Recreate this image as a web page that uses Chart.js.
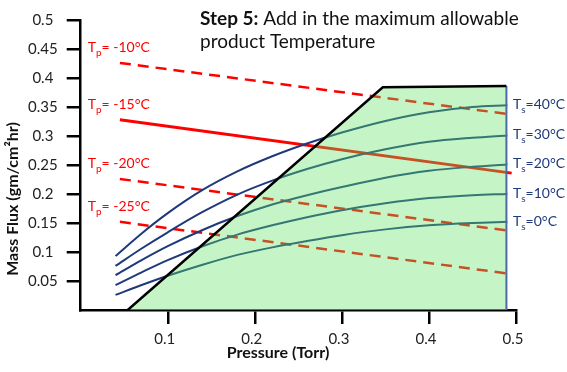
<!DOCTYPE html>
<html>
<head>
<meta charset="utf-8">
<script src="https://cdn.jsdelivr.net/npm/chart.js@4.4.1/dist/chart.umd.min.js"></script>
<style>
  html, body { margin: 0; padding: 0; background: #fff; }
  #wrap { width: 567px; height: 372px; }
</style>
</head>
<body>
<div id="wrap"><canvas id="fluxChart"></canvas></div>
<script>
// pressure (Torr) where the shelf temperature curves were read
const pressure = [0.04, 0.07, 0.10, 0.14, 0.18, 0.22, 0.26, 0.30, 0.35, 0.40, 0.45, 0.49];

// mass flux (gm/cm2hr) for each shelf temperature
const ts0  = [0.026, 0.043, 0.059, 0.078, 0.095, 0.108, 0.119, 0.129, 0.139, 0.146, 0.150, 0.152];
const ts10 = [0.043, 0.065, 0.086, 0.110, 0.130, 0.146, 0.160, 0.172, 0.184, 0.193, 0.198, 0.200];
const ts20 = [0.060, 0.086, 0.110, 0.138, 0.162, 0.182, 0.198, 0.212, 0.228, 0.240, 0.247, 0.251];
const ts30 = [0.076, 0.106, 0.134, 0.169, 0.199, 0.223, 0.243, 0.260, 0.277, 0.290, 0.297, 0.301];
const ts40 = [0.093, 0.132, 0.167, 0.207, 0.239, 0.265, 0.287, 0.306, 0.326, 0.341, 0.350, 0.353];
const tsLabels = ["0", "10", "20", "30", "40"];

// product temperature lines (straight), start and end
const tpPressure = [0.045, 0.495];
const tpLabels = ["-10", "-15", "-20", "-25"];
const tpStart = [0.426, 0.328, 0.226, 0.152];
const tpEnd   = [0.337, 0.236, 0.136, 0.062];

// design space (green area) corners
const spaceX = [0.054, 0.347, 0.489];
const spaceY = [0, 0.384, 0.386];

const xTicks = [0.1, 0.2, 0.3, 0.4, 0.5];

const NAVY = "#1f3a7a";
const RED = "#ff0000";
const FONT = "Lato";

function pts(xs, ys) {
  return xs.map((x, i) => ({ x: x, y: ys[i] }));
}

const tsSeries = [ts0, ts10, ts20, ts30, ts40];

const datasets = [];

// black boundary on top
datasets.push({
  data: pts(spaceX, spaceY),
  borderColor: "#000",
  borderWidth: 2.5,
  pointRadius: 0,
  order: 0
});

// blue bottom + right edge
datasets.push({
  data: [
    { x: spaceX[0], y: 0 },
    { x: spaceX[2], y: 0 },
    { x: spaceX[2], y: spaceY[2] }
  ],
  borderColor: "#4a6aa8",
  borderWidth: 2,
  pointRadius: 0,
  order: 0
});

// green translucent area over the curves
datasets.push({
  data: pts(spaceX, spaceY).concat([{ x: spaceX[2], y: 0 }]),
  borderWidth: 0,
  borderColor: "rgba(0,0,0,0)",
  backgroundColor: "rgba(93,226,99,0.36)",
  fill: "origin",
  pointRadius: 0,
  order: 1
});

tsSeries.forEach((s) => {
  datasets.push({
    data: pts(pressure, s),
    borderColor: NAVY,
    borderWidth: 2,
    pointRadius: 0,
    cubicInterpolationMode: "monotone",
    order: 2
  });
});

tpLabels.forEach((lbl, i) => {
  datasets.push({
    data: pts(tpPressure, [tpStart[i], tpEnd[i]]),
    borderColor: RED,
    borderWidth: lbl === "-15" ? 3 : 2.5,
    borderDash: lbl === "-15" ? [] : [11, 7],
    pointRadius: 0,
    order: 2
  });
});

function drawSub(ctx, x, y, main, sub, rest, color) {
  ctx.fillStyle = color;
  ctx.textBaseline = "alphabetic";
  ctx.textAlign = "left";
  ctx.font = "14px " + FONT;
  ctx.fillText(main, x, y);
  x += ctx.measureText(main).width;
  ctx.font = "10px " + FONT;
  ctx.fillText(sub, x, y + 4);
  x += ctx.measureText(sub).width;
  ctx.font = "14px " + FONT;
  ctx.fillText(rest, x, y);
}

const textPlugin = {
  id: "textPlugin",
  afterDraw(chart) {
    const ctx = chart.ctx;
    const xs = chart.scales.x;
    const ys = chart.scales.y;
    const area = chart.chartArea;
    ctx.save();

    // title
    ctx.fillStyle = "#111";
    ctx.textAlign = "left";
    ctx.textBaseline = "alphabetic";
    ctx.font = "bold 19px " + FONT;
    ctx.fillText("Step 5:", 200, 25);
    const w = ctx.measureText("Step 5:").width;
    ctx.font = "19px " + FONT;
    ctx.fillText(" Add in the maximum allowable", 200 + w, 25);
    ctx.fillText("product Temperature", 200, 48);

    // axis titles
    ctx.fillStyle = "#111";
    ctx.font = "bold 16px " + FONT;
    ctx.textAlign = "center";
    ctx.fillText("Pressure (Torr)", 278, 358);
    ctx.save();
    ctx.translate(18, 199);
    ctx.rotate(-Math.PI / 2);
    ctx.fillText("Mass Flux (gm/cm\u00b2hr)", 0, 0);
    ctx.restore();

    // product temperature labels
    tpLabels.forEach((lbl, i) => {
      const y = ys.getPixelForValue(tpStart[i]) - 11;
      drawSub(ctx, area.left + 7, y, "T", "p", "= " + lbl + "\u00b0C", RED);
    });

    // shelf temperature labels
    tsSeries.forEach((s, i) => {
      const y = ys.getPixelForValue(s[s.length - 1]) + 4;
      drawSub(ctx, xs.getPixelForValue(0.5) - 3, y, "T", "s", "=" + tsLabels[i] + "\u00b0C", NAVY);
    });

    ctx.restore();
  }
};

new Chart(document.getElementById("fluxChart"), {
  type: "scatter",
  data: { datasets: datasets },
  options: {
    responsive: true,
    maintainAspectRatio: false,
    animation: false,
    showLine: true,
    layout: { padding: { top: 20, right: 51, left: 0, bottom: 0 } },
    plugins: {
      legend: { display: false },
      tooltip: { enabled: false }
    },
    scales: {
      x: {
        type: "linear",
        min: 0,
        max: 0.5,
        afterBuildTicks: (scale) => {
          scale.ticks = [{ value: 0 }].concat(xTicks.map((v) => ({ value: v })));
        },
        afterFit: (scale) => { scale.height = 62; },
        border: { display: true, color: "#000", width: 2.5 },
        grid: {
          drawOnChartArea: false,
          tickLength: 14,
          lineWidth: 2.5,
          color: (c) => (c.tick && c.tick.value === 0 ? "rgba(0,0,0,0)" : "#000")
        },
        ticks: {
          font: { family: FONT, size: 15 },
          color: "#222",
          padding: 6,
          labelOffset: -3,
          maxRotation: 0,
          callback: (v) => (v === 0 ? "" : String(+v.toFixed(2)))
        }
      },
      y: {
        type: "linear",
        min: 0,
        max: 0.5,
        afterFit: (scale) => { scale.width = 80.7; },
        border: { display: true, color: "#000", width: 2.5 },
        grid: {
          drawOnChartArea: false,
          tickLength: 14,
          lineWidth: 2.5,
          color: (c) => (c.tick && c.tick.value === 0 ? "rgba(0,0,0,0)" : "#000")
        },
        ticks: {
          stepSize: 0.05,
          font: { family: FONT, size: 15 },
          color: "#222",
          crossAlign: "center",
          padding: 9,
          callback: (v) => (v === 0 ? "" : String(+v.toFixed(2)))
        }
      }
    }
  },
  plugins: [textPlugin]
});
</script>
</body>
</html>
